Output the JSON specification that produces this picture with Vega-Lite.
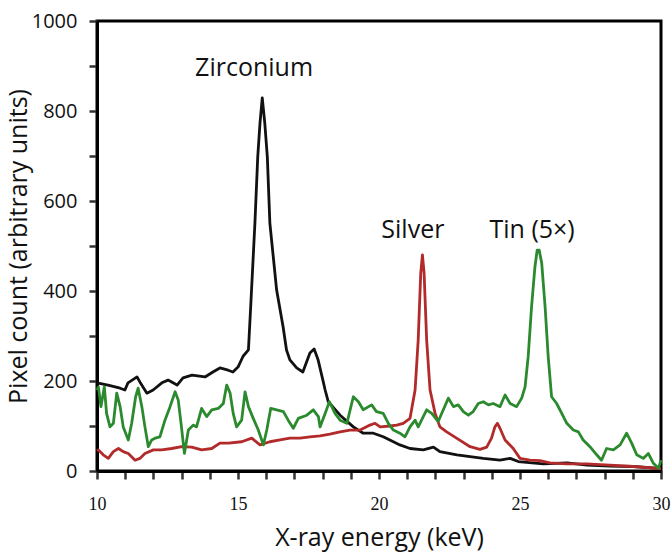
{
  "$schema": "https://vega.github.io/schema/vega-lite/v6.json",
  "width": 564,
  "height": 450,
  "autosize": {"type": "none"},
  "padding": {"left": 97, "top": 21, "right": 10, "bottom": 84},
  "config": {"view": {"stroke": "#000", "strokeWidth": 3}, "font": "Open Sans", "axis": {"ticks": true, "tickColor": "#333", "tickWidth": 2.5, "tickOpacity": 1}},
  "data": {"values": [
      {"s": "Zirconium", "e": 10.0, "v": 196}, {"s": "Zirconium", "e": 10.39, "v": 191}, {"s": "Zirconium", "e": 10.82, "v": 184}, {"s": "Zirconium", "e": 10.99, "v": 180}, {"s": "Zirconium", "e": 11.1, "v": 196}, {"s": "Zirconium", "e": 11.42, "v": 209}, {"s": "Zirconium", "e": 11.52, "v": 198}, {"s": "Zirconium", "e": 11.77, "v": 173}, {"s": "Zirconium", "e": 11.99, "v": 180}, {"s": "Zirconium", "e": 12.3, "v": 196}, {"s": "Zirconium", "e": 12.52, "v": 202}, {"s": "Zirconium", "e": 12.84, "v": 191}, {"s": "Zirconium", "e": 13.05, "v": 207}, {"s": "Zirconium", "e": 13.37, "v": 213}, {"s": "Zirconium", "e": 13.83, "v": 209}, {"s": "Zirconium", "e": 14.11, "v": 220}, {"s": "Zirconium", "e": 14.36, "v": 229}, {"s": "Zirconium", "e": 14.65, "v": 224}, {"s": "Zirconium", "e": 14.82, "v": 220}, {"s": "Zirconium", "e": 15.0, "v": 231}, {"s": "Zirconium", "e": 15.18, "v": 255}, {"s": "Zirconium", "e": 15.37, "v": 269}, {"s": "Zirconium", "e": 15.45, "v": 365}, {"s": "Zirconium", "e": 15.6, "v": 551}, {"s": "Zirconium", "e": 15.7, "v": 698}, {"s": "Zirconium", "e": 15.78, "v": 773}, {"s": "Zirconium", "e": 15.86, "v": 829}, {"s": "Zirconium", "e": 15.95, "v": 773}, {"s": "Zirconium", "e": 16.04, "v": 698}, {"s": "Zirconium", "e": 16.13, "v": 551}, {"s": "Zirconium", "e": 16.37, "v": 402}, {"s": "Zirconium", "e": 16.6, "v": 320}, {"s": "Zirconium", "e": 16.72, "v": 269}, {"s": "Zirconium", "e": 16.84, "v": 247}, {"s": "Zirconium", "e": 17.08, "v": 229}, {"s": "Zirconium", "e": 17.3, "v": 220}, {"s": "Zirconium", "e": 17.55, "v": 262}, {"s": "Zirconium", "e": 17.7, "v": 271}, {"s": "Zirconium", "e": 17.84, "v": 247}, {"s": "Zirconium", "e": 18.01, "v": 202}, {"s": "Zirconium", "e": 18.09, "v": 180}, {"s": "Zirconium", "e": 18.2, "v": 154}, {"s": "Zirconium", "e": 18.62, "v": 124}, {"s": "Zirconium", "e": 19.09, "v": 98}, {"s": "Zirconium", "e": 19.44, "v": 84}, {"s": "Zirconium", "e": 19.8, "v": 84}, {"s": "Zirconium", "e": 20.15, "v": 76}, {"s": "Zirconium", "e": 20.51, "v": 65}, {"s": "Zirconium", "e": 20.74, "v": 58}, {"s": "Zirconium", "e": 21.1, "v": 50}, {"s": "Zirconium", "e": 21.57, "v": 47}, {"s": "Zirconium", "e": 21.93, "v": 53}, {"s": "Zirconium", "e": 22.16, "v": 43}, {"s": "Zirconium", "e": 22.76, "v": 36}, {"s": "Zirconium", "e": 23.23, "v": 32}, {"s": "Zirconium", "e": 23.7, "v": 28}, {"s": "Zirconium", "e": 24.29, "v": 24}, {"s": "Zirconium", "e": 24.65, "v": 28}, {"s": "Zirconium", "e": 24.94, "v": 21}, {"s": "Zirconium", "e": 25.82, "v": 16}, {"s": "Zirconium", "e": 26.67, "v": 18}, {"s": "Zirconium", "e": 27.38, "v": 13}, {"s": "Zirconium", "e": 28.19, "v": 11}, {"s": "Zirconium", "e": 29.01, "v": 10}, {"s": "Zirconium", "e": 29.96, "v": 6},
      {"s": "Silver", "e": 10.0, "v": 45}, {"s": "Silver", "e": 10.05, "v": 47}, {"s": "Silver", "e": 10.22, "v": 36}, {"s": "Silver", "e": 10.4, "v": 28}, {"s": "Silver", "e": 10.58, "v": 43}, {"s": "Silver", "e": 10.76, "v": 50}, {"s": "Silver", "e": 10.93, "v": 43}, {"s": "Silver", "e": 11.11, "v": 39}, {"s": "Silver", "e": 11.35, "v": 24}, {"s": "Silver", "e": 11.52, "v": 28}, {"s": "Silver", "e": 11.7, "v": 39}, {"s": "Silver", "e": 12.0, "v": 47}, {"s": "Silver", "e": 12.29, "v": 47}, {"s": "Silver", "e": 12.65, "v": 50}, {"s": "Silver", "e": 13.0, "v": 54}, {"s": "Silver", "e": 13.36, "v": 53}, {"s": "Silver", "e": 13.71, "v": 47}, {"s": "Silver", "e": 14.07, "v": 50}, {"s": "Silver", "e": 14.36, "v": 62}, {"s": "Silver", "e": 14.66, "v": 62}, {"s": "Silver", "e": 15.13, "v": 65}, {"s": "Silver", "e": 15.49, "v": 73}, {"s": "Silver", "e": 15.78, "v": 58}, {"s": "Silver", "e": 16.13, "v": 65}, {"s": "Silver", "e": 16.49, "v": 69}, {"s": "Silver", "e": 16.84, "v": 73}, {"s": "Silver", "e": 17.2, "v": 73}, {"s": "Silver", "e": 17.55, "v": 76}, {"s": "Silver", "e": 17.91, "v": 78}, {"s": "Silver", "e": 18.26, "v": 82}, {"s": "Silver", "e": 18.62, "v": 87}, {"s": "Silver", "e": 18.97, "v": 91}, {"s": "Silver", "e": 19.33, "v": 91}, {"s": "Silver", "e": 19.68, "v": 102}, {"s": "Silver", "e": 19.86, "v": 106}, {"s": "Silver", "e": 20.04, "v": 98}, {"s": "Silver", "e": 20.39, "v": 100}, {"s": "Silver", "e": 20.63, "v": 102}, {"s": "Silver", "e": 20.86, "v": 106}, {"s": "Silver", "e": 21.1, "v": 117}, {"s": "Silver", "e": 21.28, "v": 180}, {"s": "Silver", "e": 21.39, "v": 291}, {"s": "Silver", "e": 21.48, "v": 439}, {"s": "Silver", "e": 21.54, "v": 480}, {"s": "Silver", "e": 21.6, "v": 439}, {"s": "Silver", "e": 21.69, "v": 291}, {"s": "Silver", "e": 21.81, "v": 180}, {"s": "Silver", "e": 21.99, "v": 128}, {"s": "Silver", "e": 22.16, "v": 98}, {"s": "Silver", "e": 22.4, "v": 87}, {"s": "Silver", "e": 22.75, "v": 73}, {"s": "Silver", "e": 23.23, "v": 54}, {"s": "Silver", "e": 23.58, "v": 48}, {"s": "Silver", "e": 23.82, "v": 53}, {"s": "Silver", "e": 23.99, "v": 73}, {"s": "Silver", "e": 24.11, "v": 98}, {"s": "Silver", "e": 24.2, "v": 106}, {"s": "Silver", "e": 24.29, "v": 95}, {"s": "Silver", "e": 24.47, "v": 69}, {"s": "Silver", "e": 24.76, "v": 50}, {"s": "Silver", "e": 25.0, "v": 28}, {"s": "Silver", "e": 25.35, "v": 24}, {"s": "Silver", "e": 25.71, "v": 23}, {"s": "Silver", "e": 26.06, "v": 18}, {"s": "Silver", "e": 26.66, "v": 16}, {"s": "Silver", "e": 27.37, "v": 16}, {"s": "Silver", "e": 28.19, "v": 13}, {"s": "Silver", "e": 29.02, "v": 10}, {"s": "Silver", "e": 29.85, "v": 6}, {"s": "Silver", "e": 30.0, "v": 5},
      {"s": "Tin", "e": 10.0, "v": 180}, {"s": "Tin", "e": 10.05, "v": 187}, {"s": "Tin", "e": 10.14, "v": 143}, {"s": "Tin", "e": 10.26, "v": 187}, {"s": "Tin", "e": 10.34, "v": 128}, {"s": "Tin", "e": 10.46, "v": 98}, {"s": "Tin", "e": 10.58, "v": 106}, {"s": "Tin", "e": 10.7, "v": 173}, {"s": "Tin", "e": 10.82, "v": 143}, {"s": "Tin", "e": 10.93, "v": 98}, {"s": "Tin", "e": 11.11, "v": 69}, {"s": "Tin", "e": 11.23, "v": 106}, {"s": "Tin", "e": 11.37, "v": 165}, {"s": "Tin", "e": 11.46, "v": 184}, {"s": "Tin", "e": 11.59, "v": 143}, {"s": "Tin", "e": 11.7, "v": 98}, {"s": "Tin", "e": 11.82, "v": 54}, {"s": "Tin", "e": 11.94, "v": 69}, {"s": "Tin", "e": 12.06, "v": 73}, {"s": "Tin", "e": 12.23, "v": 76}, {"s": "Tin", "e": 12.41, "v": 113}, {"s": "Tin", "e": 12.59, "v": 143}, {"s": "Tin", "e": 12.77, "v": 176}, {"s": "Tin", "e": 12.88, "v": 158}, {"s": "Tin", "e": 12.98, "v": 106}, {"s": "Tin", "e": 13.1, "v": 39}, {"s": "Tin", "e": 13.24, "v": 91}, {"s": "Tin", "e": 13.41, "v": 102}, {"s": "Tin", "e": 13.53, "v": 98}, {"s": "Tin", "e": 13.71, "v": 139}, {"s": "Tin", "e": 13.89, "v": 121}, {"s": "Tin", "e": 14.07, "v": 136}, {"s": "Tin", "e": 14.3, "v": 139}, {"s": "Tin", "e": 14.48, "v": 150}, {"s": "Tin", "e": 14.6, "v": 191}, {"s": "Tin", "e": 14.72, "v": 173}, {"s": "Tin", "e": 14.83, "v": 128}, {"s": "Tin", "e": 14.95, "v": 98}, {"s": "Tin", "e": 15.13, "v": 113}, {"s": "Tin", "e": 15.25, "v": 176}, {"s": "Tin", "e": 15.37, "v": 143}, {"s": "Tin", "e": 15.54, "v": 117}, {"s": "Tin", "e": 15.72, "v": 91}, {"s": "Tin", "e": 15.9, "v": 58}, {"s": "Tin", "e": 16.02, "v": 91}, {"s": "Tin", "e": 16.16, "v": 139}, {"s": "Tin", "e": 16.37, "v": 136}, {"s": "Tin", "e": 16.61, "v": 132}, {"s": "Tin", "e": 16.78, "v": 113}, {"s": "Tin", "e": 16.96, "v": 95}, {"s": "Tin", "e": 17.14, "v": 117}, {"s": "Tin", "e": 17.44, "v": 124}, {"s": "Tin", "e": 17.67, "v": 136}, {"s": "Tin", "e": 17.85, "v": 121}, {"s": "Tin", "e": 17.91, "v": 98}, {"s": "Tin", "e": 18.09, "v": 128}, {"s": "Tin", "e": 18.24, "v": 154}, {"s": "Tin", "e": 18.44, "v": 128}, {"s": "Tin", "e": 18.62, "v": 113}, {"s": "Tin", "e": 18.86, "v": 106}, {"s": "Tin", "e": 19.09, "v": 165}, {"s": "Tin", "e": 19.27, "v": 154}, {"s": "Tin", "e": 19.44, "v": 136}, {"s": "Tin", "e": 19.74, "v": 147}, {"s": "Tin", "e": 19.91, "v": 132}, {"s": "Tin", "e": 20.15, "v": 128}, {"s": "Tin", "e": 20.33, "v": 106}, {"s": "Tin", "e": 20.51, "v": 91}, {"s": "Tin", "e": 20.74, "v": 84}, {"s": "Tin", "e": 20.92, "v": 76}, {"s": "Tin", "e": 21.1, "v": 98}, {"s": "Tin", "e": 21.28, "v": 113}, {"s": "Tin", "e": 21.39, "v": 98}, {"s": "Tin", "e": 21.57, "v": 121}, {"s": "Tin", "e": 21.69, "v": 136}, {"s": "Tin", "e": 21.87, "v": 128}, {"s": "Tin", "e": 22.1, "v": 110}, {"s": "Tin", "e": 22.28, "v": 136}, {"s": "Tin", "e": 22.46, "v": 162}, {"s": "Tin", "e": 22.64, "v": 143}, {"s": "Tin", "e": 22.81, "v": 147}, {"s": "Tin", "e": 22.99, "v": 132}, {"s": "Tin", "e": 23.17, "v": 124}, {"s": "Tin", "e": 23.34, "v": 132}, {"s": "Tin", "e": 23.52, "v": 150}, {"s": "Tin", "e": 23.7, "v": 154}, {"s": "Tin", "e": 23.88, "v": 147}, {"s": "Tin", "e": 24.05, "v": 150}, {"s": "Tin", "e": 24.29, "v": 143}, {"s": "Tin", "e": 24.47, "v": 169}, {"s": "Tin", "e": 24.65, "v": 150}, {"s": "Tin", "e": 24.88, "v": 143}, {"s": "Tin", "e": 25.06, "v": 162}, {"s": "Tin", "e": 25.18, "v": 187}, {"s": "Tin", "e": 25.29, "v": 254}, {"s": "Tin", "e": 25.41, "v": 365}, {"s": "Tin", "e": 25.53, "v": 454}, {"s": "Tin", "e": 25.61, "v": 491}, {"s": "Tin", "e": 25.68, "v": 491}, {"s": "Tin", "e": 25.77, "v": 462}, {"s": "Tin", "e": 25.89, "v": 365}, {"s": "Tin", "e": 26.0, "v": 254}, {"s": "Tin", "e": 26.12, "v": 165}, {"s": "Tin", "e": 26.3, "v": 150}, {"s": "Tin", "e": 26.48, "v": 128}, {"s": "Tin", "e": 26.66, "v": 106}, {"s": "Tin", "e": 26.89, "v": 91}, {"s": "Tin", "e": 27.07, "v": 87}, {"s": "Tin", "e": 27.24, "v": 69}, {"s": "Tin", "e": 27.48, "v": 54}, {"s": "Tin", "e": 27.72, "v": 36}, {"s": "Tin", "e": 27.89, "v": 24}, {"s": "Tin", "e": 28.07, "v": 50}, {"s": "Tin", "e": 28.31, "v": 47}, {"s": "Tin", "e": 28.55, "v": 58}, {"s": "Tin", "e": 28.78, "v": 84}, {"s": "Tin", "e": 28.96, "v": 62}, {"s": "Tin", "e": 29.14, "v": 36}, {"s": "Tin", "e": 29.37, "v": 28}, {"s": "Tin", "e": 29.55, "v": 39}, {"s": "Tin", "e": 29.73, "v": 17}, {"s": "Tin", "e": 29.91, "v": 6}, {"s": "Tin", "e": 30.0, "v": 24},
      {"t": "Zirconium", "e": 15.57, "v": 896},
      {"t": "Silver", "e": 21.2, "v": 536},
      {"t": "Tin (5×)", "e": 25.43, "v": 536}
  ]},
  "encoding": {
    "x": {
      "field": "e", "type": "quantitative",
      "scale": {"domain": [10, 30], "nice": false, "zero": false},
      "axis": {
        "values": [10, 11, 12, 13, 14, 15, 16, 17, 18, 19, 20, 21, 22, 23, 24, 25, 26, 27, 28, 29, 30],
        "labelExpr": "datum.value % 5 === 0 ? datum.label : ''",
        "ticks": true,
        "tickSize": 8,
        "tickColor": "#333", "tickWidth": 2.5, "tickOpacity": 1,
        "domainColor": "#000", "domainWidth": 3,
        "grid": false,
        "labelFont": "Liberation Serif", "labelFontSize": 18, "labelColor": "#111", "labelPadding": 16,
        "labelOverlap": false, "labelFlush": false,
        "title": "X-ray energy (keV)", "titleFont": "Open Sans", "titleFontSize": 25, "titleFontWeight": "normal", "titleColor": "#111", "titlePadding": 12
      }
    },
    "y": {
      "field": "v", "type": "quantitative",
      "scale": {"domain": [0, 1000], "nice": false},
      "axis": {
        "values": [0, 100, 200, 300, 400, 500, 600, 700, 800, 900, 1000],
        "labelExpr": "datum.value % 200 === 0 ? datum.label : ''",
        "format": "d",
        "ticks": true,
        "tickSize": 8,
        "tickColor": "#333", "tickWidth": 2.5, "tickOpacity": 1,
        "domainColor": "#000", "domainWidth": 3,
        "grid": false,
        "labelFont": "Open Sans", "labelFontSize": 20, "labelColor": "#111", "labelPadding": 12,
        "labelOverlap": false, "labelFlush": false,
        "title": "Pixel count (arbitrary units)", "titleFont": "Open Sans", "titleFontSize": 25, "titleFontWeight": "normal", "titleColor": "#111", "titlePadding": 0
      }
    }
  },
  "layer": [
    {
      "transform": [{"filter": "isValid(datum.s)"}],
      "mark": {"type": "line", "strokeWidth": 2.8, "strokeJoin": "round"},
      "encoding": {
        "color": {
          "field": "s", "type": "nominal",
          "scale": {"domain": ["Zirconium", "Silver", "Tin"], "range": ["#111111", "#b22a2a", "#2b8a2e"]},
          "legend": null
        }
      }
    },
    {
      "transform": [{"filter": "isValid(datum.t)"}],
      "mark": {"type": "text", "fontSize": 25, "font": "Open Sans", "color": "#111"},
      "encoding": {
        "text": {"field": "t"}
      }
    }
  ]
}
